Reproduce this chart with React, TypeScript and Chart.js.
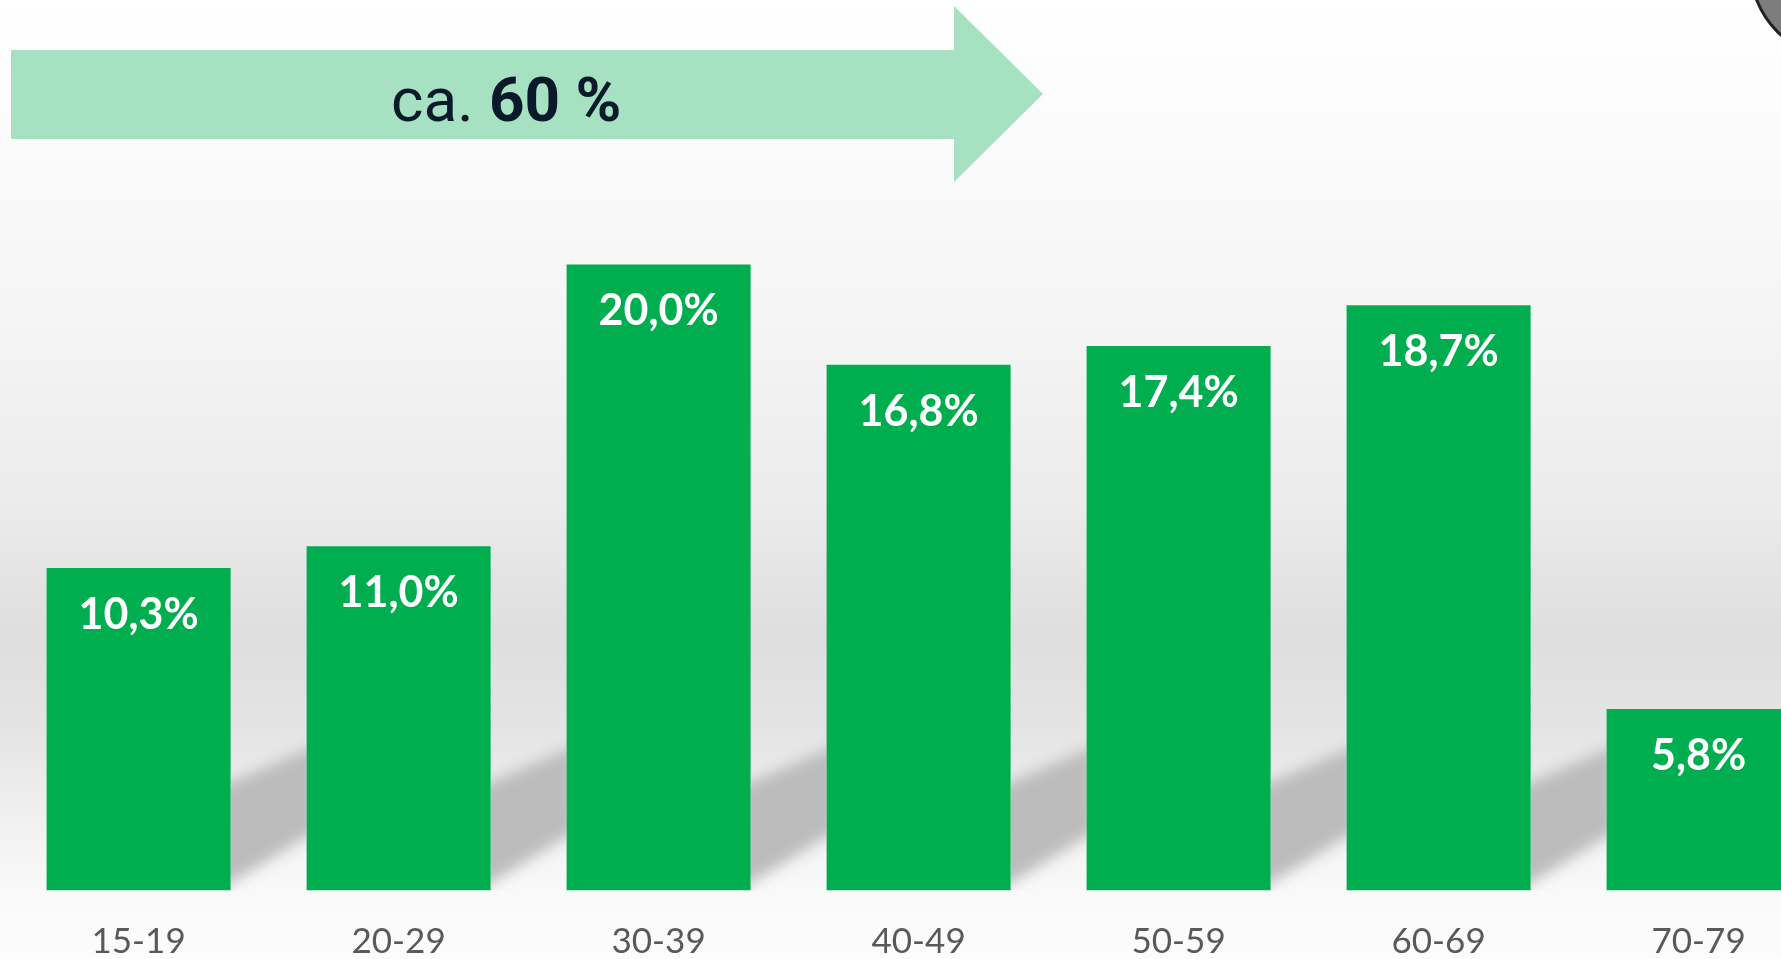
import React, { useEffect, useRef } from 'react';
import { Chart, registerables } from 'chart.js';

Chart.register(...registerables);

// ---- data ----
const categories = ['15-19', '20-29', '30-39', '40-49', '50-59', '60-69', '70-79'];
const shares = [10.3, 11.0, 20.0, 16.8, 17.4, 18.7, 5.8];
const shareLabels = ['10,3%', '11,0%', '20,0%', '16,8%', '17,4%', '18,7%', '5,8%'];
const arrowTextRegular = 'ca. ';
const arrowTextBold = '60 %';
const yMin = 0;
const yMax = 25;

// ---- layout ----
const W = 1781;
const H = 959;
const CW = 1840;

const decoPlugin = {
  id: 'deco',
  beforeDraw(chart: any) {
    const ctx: CanvasRenderingContext2D = chart.ctx;
    ctx.save();
    const g = ctx.createLinearGradient(0, 0, 0, H);
    g.addColorStop(0, '#ffffff');
    g.addColorStop(0.15, '#fbfbfb');
    g.addColorStop(0.35, '#f4f4f4');
    g.addColorStop(0.53, '#ebebeb');
    g.addColorStop(0.66, '#dedede');
    g.addColorStop(0.76, '#e4e4e4');
    g.addColorStop(0.86, '#f1f1f1');
    g.addColorStop(0.94, '#fafafa');
    g.addColorStop(1, '#fcfcfc');
    ctx.fillStyle = g;
    ctx.fillRect(0, 0, chart.width, chart.height);

    // arrow
    ctx.fillStyle = '#a6e2c2';
    ctx.beginPath();
    ctx.moveTo(11, 50);
    ctx.lineTo(954, 50);
    ctx.lineTo(954, 6);
    ctx.lineTo(1043, 94);
    ctx.lineTo(954, 182);
    ctx.lineTo(954, 139);
    ctx.lineTo(11, 139);
    ctx.closePath();
    ctx.fill();

    ctx.fillStyle = '#0b1a2a';
    ctx.textBaseline = 'alphabetic';
    ctx.textAlign = 'left';
    ctx.font = '400 62px Roboto';
    ctx.fillText(arrowTextRegular, 391, 121);
    const w = ctx.measureText(arrowTextRegular).width;
    ctx.font = '700 62px Roboto';
    ctx.fillText(arrowTextBold, 391 + w, 121);

    // corner graphic fragment
    ctx.beginPath();
    ctx.arc(1845, -35, 95, 0, Math.PI * 2);
    ctx.fillStyle = '#7d7d7d';
    ctx.fill();
    ctx.lineWidth = 3;
    ctx.strokeStyle = '#222';
    ctx.stroke();
    ctx.restore();
  },
  beforeDatasetsDraw(chart: any) {
    const ctx: CanvasRenderingContext2D = chart.ctx;
    const bars = chart.getDatasetMeta(0).data;
    const yb = chart.scales.y.getPixelForValue(0);
    for (let i = 1; i < bars.length; i++) {
      const prev = bars[i - 1];
      const cur = bars[i];
      const xL = prev.x + prev.width / 2;
      const xR = cur.x - cur.width / 2;
      ctx.save();
      ctx.beginPath();
      ctx.rect(xL, 0, xR - xL, yb);
      ctx.clip();
      ctx.filter = 'blur(7px)';
      ctx.fillStyle = '#bcbcbc';
      ctx.beginPath();
      ctx.moveTo(xL - 20, yb - 100);
      ctx.lineTo(xR + 10, yb - 145);
      ctx.lineTo(xR + 10, yb - 60);
      ctx.lineTo(xL - 20, yb + 5);
      ctx.closePath();
      ctx.fill();
      ctx.restore();
    }
  },
  afterDatasetsDraw(chart: any) {
    const ctx: CanvasRenderingContext2D = chart.ctx;
    const bars = chart.getDatasetMeta(0).data;
    ctx.save();
    ctx.fillStyle = '#ffffff';
    ctx.font = '700 43px Lato';
    ctx.textAlign = 'center';
    ctx.textBaseline = 'middle';
    bars.forEach((b: any, i: number) => {
      ctx.fillText(shareLabels[i], b.x, b.y + 47);
    });
    ctx.restore();
  },
};

export default function App() {
  const ref = useRef<HTMLCanvasElement>(null);
  useEffect(() => {
    if (!ref.current) return;
    const chart = new Chart(ref.current, {
      type: 'bar',
      data: {
        labels: categories,
        datasets: [
          {
            data: shares,
            backgroundColor: '#00ae50',
            borderWidth: 0,
            barPercentage: 184 / 260,
            categoryPercentage: 1,
          },
        ],
      },
      options: {
        animation: false,
        responsive: false,
        devicePixelRatio: 1,
        layout: { padding: { left: 8.6, right: CW - 1828.6, top: 108, bottom: 0 } },
        plugins: { legend: { display: false }, tooltip: { enabled: false } },
        scales: {
          x: {
            grid: { display: false, drawTicks: false },
            border: { display: false },
            ticks: {
              color: '#595959',
              font: { family: 'Lato', size: 35, weight: 'normal' },
              padding: 30,
            },
            afterFit: (scale: any) => {
              scale.height = H - 890.5;
            },
          },
          y: { display: false, min: yMin, max: yMax },
        },
      },
      plugins: [decoPlugin],
    } as any);
    return () => chart.destroy();
  }, []);
  return (
    <div
      style={{
        position: 'fixed',
        left: 0,
        top: 0,
        width: W,
        height: H,
        overflow: 'hidden',
        background: '#fff',
      }}
    >
      <canvas ref={ref} width={CW} height={H} style={{ display: 'block', width: CW, height: H }} />
    </div>
  );
}
